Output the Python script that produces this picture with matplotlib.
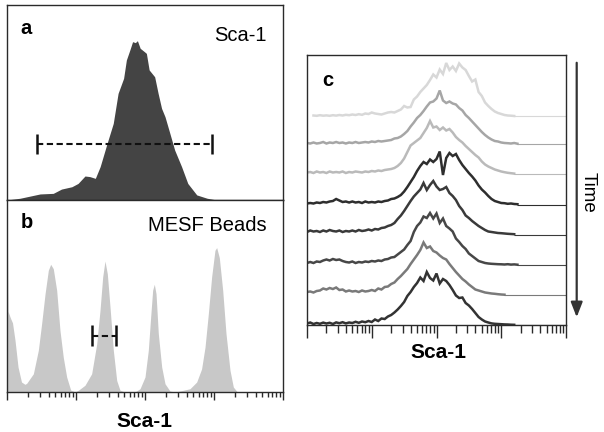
import numpy as np
import matplotlib
matplotlib.use('Agg')
import matplotlib.pyplot as plt
from matplotlib.ticker import LogLocator, NullFormatter

plt.rcParams['font.family'] = ['Liberation Sans', 'DejaVu Sans']

# panel a: Sca-1 histogram (x in log10 decades, height as fraction of panel)
a_dec = [0.0, 0.19, 0.48, 0.67, 0.79, 0.94, 1.03, 1.13, 1.20, 1.28,
         1.35, 1.45, 1.54, 1.61, 1.69, 1.73, 1.78, 1.82, 1.86, 1.89,
         1.93, 1.99, 2.02, 2.06, 2.14, 2.19, 2.24, 2.29, 2.36, 2.43,
         2.53, 2.62, 2.75, 2.90, 3.04, 4.0]
a_cnt = [0.0, 0.009, 0.031, 0.034, 0.056, 0.068, 0.085, 0.123, 0.12, 0.111,
         0.171, 0.29, 0.393, 0.547, 0.624, 0.718, 0.769, 0.812, 0.807, 0.817,
         0.778, 0.761, 0.752, 0.667, 0.632, 0.547, 0.47, 0.427, 0.342, 0.256,
         0.171, 0.085, 0.026, 0.009, 0.0, 0.0]
a_gate = [0.435, 2.975, 0.286]

# panel b: MESF beads
b_dec = [0.0, 0.015, 0.05, 0.08, 0.116, 0.16, 0.21, 0.26, 0.285, 0.382,
         0.454, 0.502, 0.551, 0.599, 0.633, 0.671, 0.72, 0.768, 0.816, 0.865,
         0.923, 0.986, 1.034, 1.13, 1.227, 1.30, 1.348, 1.387, 1.42, 1.454,
         1.493, 1.541, 1.59, 1.638, 1.71, 1.855, 1.928, 2.0, 2.048, 2.082,
         2.111, 2.135, 2.16, 2.193, 2.242, 2.29, 2.362, 2.435, 2.507, 2.652,
         2.749, 2.82, 2.87, 2.918, 2.966, 3.014, 3.039, 3.077, 3.126, 3.174,
         3.232, 3.28, 3.338, 4.0]
b_cnt = [1.1, 0.42, 0.385, 0.36, 0.27, 0.13, 0.052, 0.04, 0.045, 0.095,
         0.217, 0.356, 0.51, 0.634, 0.665, 0.642, 0.53, 0.32, 0.18, 0.078,
         0.01, 0.0, 0.009, 0.035, 0.095, 0.25, 0.425, 0.6, 0.682, 0.616,
         0.443, 0.217, 0.06, 0.009, 0.0, 0.0, 0.017, 0.078, 0.217, 0.39,
         0.53, 0.561, 0.512, 0.304, 0.13, 0.043, 0.005, 0.0, 0.005, 0.017,
         0.052, 0.12, 0.234, 0.408, 0.6, 0.738, 0.752, 0.7, 0.53, 0.304,
         0.113, 0.026, 0.0, 0.0]
b_gate = [1.232, 1.58, 0.292]

# panel c: stacked histograms over time (top -> bottom), sampled every 0.05 decade
c_dec = np.linspace(0, 3.25, 66)
c_t1 = [0, 0, 0.5, 0.2, 0.8, 0.3, 0.6, 0.2, 0.8, 0.4,
        1.0, 0.5, 1.2, 0.8, 1.5, 1.0, 1.8, 1.2, 2.5, 2.0,
        3.5, 2.5, 2.0, 1.5, 2.5, 3.5, 4.0, 3.5, 5.0, 6.5,
        10.0, 8.5, 9.0, 16.5, 19.5, 24.0, 27.5, 31.0, 36.0, 41.5,
        38.5, 46.5, 42.0, 53.0, 46.0, 49.5, 45.0, 52.5, 48.5, 46.0,
        40.0, 34.5, 36.5, 24.0, 20.0, 13.5, 10.0, 7.0, 4.5, 3.0,
        2.0, 1.0, 0.5, 0.3, 0.0, 0.0]
c_t2 = [1.0, 0.5, 1.5, 0.5, 1.0, 2.0, 0.5, 1.5, 1.0, 2.0,
        1.0, 1.5, 0.5, 1.5, 1.0, 2.0, 1.0, 1.5, 2.0, 1.5,
        2.5, 2.0, 3.0, 2.5, 3.0, 3.5, 4.0, 5.5, 6.0, 7.5,
        10.0, 13.0, 17.5, 21.5, 26.0, 29.0, 33.0, 37.5, 41.5, 42.5,
        45.5, 53.5, 43.5, 41.0, 42.5, 40.5, 39.5, 36.0, 33.5, 29.0,
        26.0, 22.5, 19.0, 15.5, 12.0, 9.0, 6.5, 4.5, 3.0, 2.5,
        1.5, 1.0, 0.8, 0.5, 1.0, 0.3]
c_t3 = [1.5, 2.0, 1.0, 2.5, 1.5, 2.0, 1.0, 2.5, 1.5, 2.0,
        1.5, 2.5, 1.0, 2.0, 1.5, 2.5, 2.0, 1.5, 2.5, 2.0,
        3.0, 2.5, 3.5, 3.0, 4.0, 4.5, 5.0, 6.0, 8.0, 11.0,
        15.5, 22.0, 28.5, 31.0, 33.5, 36.0, 41.0, 46.0, 53.0, 46.5,
        47.5, 44.0, 46.5, 43.5, 45.0, 41.5, 37.0, 34.0, 31.5, 28.0,
        25.0, 22.0, 19.0, 16.5, 12.5, 9.5, 7.5, 6.0, 4.5, 3.5,
        2.5, 1.8, 1.2, 0.8, 0.4, 0.2]
c_t4 = [1.5, 2.0, 1.5, 2.5, 2.0, 3.0, 2.5, 3.5, 4.0, 6.0,
        4.5, 3.0, 3.5, 2.5, 3.5, 2.5, 3.0, 2.0, 3.5, 2.5,
        3.0, 2.5, 3.5, 3.0, 4.0, 4.5, 6.0, 6.5, 8.0, 10.0,
        13.5, 18.0, 23.0, 28.0, 34.0, 39.0, 43.0, 41.0, 45.5, 43.0,
        46.0, 53.5, 30.0, 47.0, 52.0, 49.0, 51.0, 45.0, 40.0, 36.0,
        32.0, 28.5, 24.5, 19.5, 15.5, 12.5, 9.0, 6.0, 4.0, 3.0,
        2.0, 1.8, 1.2, 1.5, 1.0, 0.8]
c_t5 = [3.0, 4.5, 3.5, 4.0, 3.0, 4.5, 3.5, 5.0, 4.0, 3.5,
        4.5, 3.0, 4.0, 3.5, 4.5, 3.5, 5.0, 4.0, 4.5, 5.5,
        4.5, 6.0, 5.5, 7.0, 7.5, 9.0, 10.0, 12.0, 16.0, 19.5,
        24.0, 29.0, 34.0, 38.5, 42.0, 45.5, 52.0, 45.0, 50.0, 54.0,
        48.5, 45.0, 46.0, 48.0, 42.0, 39.0, 35.0, 29.0, 25.0, 19.5,
        17.0, 14.0, 11.5, 9.0, 7.0, 5.0, 3.5, 3.0, 2.5, 2.0,
        1.8, 1.5, 1.2, 1.0, 0.8, 0.5]
c_t6 = [2.0, 3.0, 2.0, 3.5, 3.0, 4.5, 5.5, 4.5, 6.0, 5.0,
        5.5, 4.0, 3.0, 2.5, 3.5, 2.0, 3.0, 2.5, 3.5, 3.0,
        4.0, 3.5, 4.5, 4.0, 5.5, 6.0, 7.5, 8.0, 10.5, 13.0,
        15.5, 20.0, 24.0, 33.0, 39.0, 42.5, 48.5, 47.0, 52.0, 46.5,
        51.5, 42.0, 46.5, 39.0, 36.5, 33.5, 26.5, 23.0, 19.0, 16.0,
        11.5, 9.0, 6.5, 4.0, 3.0, 2.0, 1.5, 1.2, 1.0, 0.8,
        0.7, 0.5, 0.8, 0.4, 0.6, 0.3]
c_t7 = [3.0, 3.5, 2.5, 4.0, 4.5, 6.5, 5.5, 7.0, 6.0, 7.5,
        5.0, 5.5, 3.5, 4.5, 3.5, 4.0, 3.0, 4.5, 3.5, 4.0,
        5.0, 4.0, 6.5, 5.5, 8.0, 8.5, 11.0, 12.5, 16.0, 19.0,
        22.5, 26.0, 31.0, 35.5, 40.0, 45.0, 52.5, 47.0, 48.5, 44.0,
        42.5, 39.5, 37.0, 35.5, 31.0, 27.0, 23.0, 19.5, 16.0, 13.5,
        10.5, 8.0, 5.5, 4.5, 3.5, 2.5, 2.0, 1.5, 1.2, 0.8,
        0.5, 0.3, 0.0, 0.0, 0.0, 0.0]
c_t8 = [1.5, 2.5, 1.0, 2.0, 1.2, 2.4, 1.5, 2.2, 1.0, 2.6,
        1.8, 2.8, 1.6, 2.5, 2.0, 3.2, 2.2, 3.5, 2.8, 4.0,
        3.0, 5.5, 4.0, 6.5, 6.0, 8.5, 10.0, 12.5, 15.5, 19.0,
        23.0, 29.0, 33.0, 38.0, 42.0, 47.5, 44.0, 53.0, 47.0, 44.5,
        51.5, 41.5, 46.0, 44.0, 40.0, 35.0, 29.5, 27.0, 27.5, 22.0,
        19.5, 16.0, 12.0, 8.0, 5.5, 3.5, 2.5, 1.6, 1.2, 1.0,
        0.8, 0.6, 0.5, 0.3, 0.2, 0.0]
c_traces = [c_t1, c_t2, c_t3, c_t4, c_t5, c_t6, c_t7, c_t8]
c_offsets = [209, 181, 151, 120, 90, 60, 30, 0]
c_start = [0.1, 0, 0, 0, 0, 0, 0, 0]
c_end = [3.21, 3.34, 3.24, 3.29, 3.24, 3.26, 3.08, 3.24]
c_colors = ['#d8d8d8', '#a6a6a6', '#bababa', '#2e2e2e',
            '#3a3a3a', '#474747', '#7a7a7a', '#333333']

SPINE = '#2a2a2a'


def log_axis(ax, major_len, minor_len):
    ax.set_xscale('log')
    ax.set_xlim(1, 1e4)
    ax.xaxis.set_major_locator(LogLocator(base=10, numticks=10))
    ax.xaxis.set_minor_locator(LogLocator(base=10, subs=np.arange(2, 10), numticks=10))
    ax.xaxis.set_major_formatter(NullFormatter())
    ax.xaxis.set_minor_formatter(NullFormatter())
    ax.tick_params(axis='x', which='major', length=major_len, width=1.0, color=SPINE, direction='out')
    ax.tick_params(axis='x', which='minor', length=minor_len, width=1.0, color=SPINE, direction='out')
    ax.set_yticks([])
    for s in ax.spines.values():
        s.set_color(SPINE)
        s.set_linewidth(1.0)


def gate(ax, g, half):
    lo, hi, lvl = 10 ** g[0], 10 ** g[1], g[2]
    ax.plot([lo, hi], [lvl, lvl], color='#111111', lw=1.5, ls=(0, (3.0, 1.7)))
    ax.vlines([lo, hi], lvl - half, lvl + half, color='#111111', lw=1.8)


fig = plt.figure(figsize=(6.04, 4.32), dpi=100)

# panel a
ax_a = fig.add_axes([7 / 604, 232 / 432, 276 / 604, 195 / 432])
ax_a.fill_between(10 ** np.array(a_dec), a_cnt, color='#444444', lw=0)
log_axis(ax_a, 0, 0)
ax_a.set_ylim(0, 1)
gate(ax_a, a_gate, 0.05)
ax_a.text(0.05, 0.882, 'a', transform=ax_a.transAxes, fontsize=14.5, fontweight='bold',
          ha='left', va='center')
ax_a.text(0.94, 0.846, 'Sca-1', transform=ax_a.transAxes, fontsize=14.5,
          ha='right', va='center')

# panel b
ax_b = fig.add_axes([7 / 604, 40 / 432, 276 / 604, 192 / 432])
ax_b.fill_between(10 ** np.array(b_dec), b_cnt, color='#c8c8c8', lw=0)
log_axis(ax_b, 6, 3.5)
ax_b.set_ylim(0, 1)
gate(ax_b, b_gate, 0.055)
ax_b.text(0.05, 0.885, 'b', transform=ax_b.transAxes, fontsize=14.5, fontweight='bold',
          ha='left', va='center')
ax_b.text(0.94, 0.865, 'MESF Beads', transform=ax_b.transAxes, fontsize=14.5,
          ha='right', va='center')
ax_b.text(0.497, -0.181, 'Sca-1', transform=ax_b.transAxes, fontsize=15,
          fontweight='bold', ha='center', va='baseline')

# panel c
ax_c = fig.add_axes([307 / 604, 107 / 432, 259 / 604, 270 / 432])
for tr, off, st, en, col in zip(c_traces, c_offsets, c_start, c_end, c_colors):
    tr = np.array(tr)
    m = (c_dec >= st) & (c_dec <= en)
    xs = 10 ** c_dec[m]
    ax_c.plot(xs, off + tr[m], color=col, lw=1.8, solid_joinstyle='miter')
    ax_c.hlines(off, xs[-1], 1e4, color=col, lw=0.8)
log_axis(ax_c, 9, 6)
ax_c.set_ylim(0, 270)
ax_c.text(0.058, 0.907, 'c', transform=ax_c.transAxes, fontsize=14.5, fontweight='bold',
          ha='left', va='center')
ax_c.text(0.506, -0.123, 'Sca-1', transform=ax_c.transAxes, fontsize=15,
          fontweight='bold', ha='center', va='baseline')

# time arrow
fig.patches.append(matplotlib.patches.FancyArrowPatch(
    (576.7 / 604, 372 / 432), (576.7 / 604, 112 / 432), transform=fig.transFigure,
    arrowstyle='-|>,head_length=0.9,head_width=0.35', mutation_scale=10,
    color='#333333', lw=1.6))
fig.text(588.3 / 604, 240 / 432, 'Time', rotation=270, fontsize=13.5,
         ha='center', va='center')

fig.savefig('out.png', dpi=100)
